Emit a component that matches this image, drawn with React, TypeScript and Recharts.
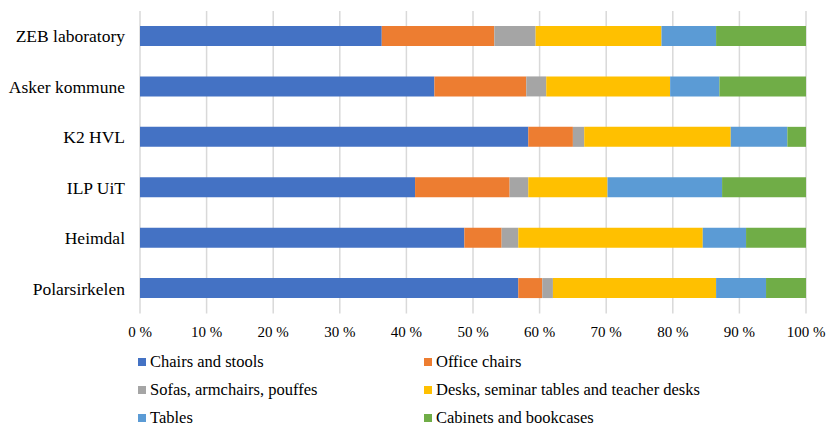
import React from 'react';
import { BarChart, Bar, XAxis, YAxis, CartesianGrid, Legend } from 'recharts';

// Categories (top to bottom) and share of each furniture type, in %
const sites = ['ZEB laboratory', 'Asker kommune', 'K2 HVL', 'ILP UiT', 'Heimdal', 'Polarsirkelen'];

const chairsAndStools = [36.3, 44.2, 58.3, 41.3, 48.7, 56.8];
const officeChairs = [16.9, 13.8, 6.7, 14.2, 5.6, 3.6];
const sofas = [6.2, 3.0, 1.7, 2.8, 2.5, 1.6];
const desks = [18.9, 18.6, 22.0, 11.9, 27.7, 24.5];
const tables = [8.2, 7.4, 8.5, 17.2, 6.5, 7.5];
const cabinets = [13.5, 13.0, 2.8, 12.6, 9.0, 6.0];

const xTicks = [0, 10, 20, 30, 40, 50, 60, 70, 80, 90, 100];

const series = [
  { key: 'chairs', name: 'Chairs and stools', values: chairsAndStools, color: '#4472C4' },
  { key: 'office', name: 'Office chairs', values: officeChairs, color: '#ED7D31' },
  { key: 'sofas', name: 'Sofas, armchairs, pouffes', values: sofas, color: '#A5A5A5' },
  { key: 'desks', name: 'Desks, seminar tables and teacher desks', values: desks, color: '#FFC000' },
  { key: 'tables', name: 'Tables', values: tables, color: '#5B9BD5' },
  { key: 'cabinets', name: 'Cabinets and bookcases', values: cabinets, color: '#70AD47' },
];

const data = sites.map((site, i) => {
  const row: Record<string, string | number> = { site };
  series.forEach((s) => {
    row[s.key] = s.values[i];
  });
  return row;
});

const font = 'Liberation Serif, Tinos, Times New Roman, DejaVu Serif, serif';

// keep legend in series order (recharts sorts payload by default)
const LegendGrid = (props: any) => {
  const items = [...(props.payload || [])].sort(
    (a: any, b: any) =>
      series.findIndex((s) => s.name === a.value) - series.findIndex((s) => s.name === b.value)
  );
  return (
    <div
      style={{
        display: 'grid',
        gridTemplateColumns: '286px 286px',
        fontFamily: font,
        fontSize: 16.5,
        color: '#000',
      }}
    >
      {items.map((item: any) => (
        <div key={item.value} style={{ display: 'flex', alignItems: 'center', height: 28, whiteSpace: 'nowrap' }}>
          <span style={{ width: 8, height: 8, background: item.color, marginRight: 4, display: 'inline-block' }} />
          <span>{item.value}</span>
        </div>
      ))}
    </div>
  );
};

export default function App() {
  return (
    <div style={{ position: 'absolute', left: 0, top: 0, width: 828, height: 426, background: '#fff', fontFamily: font }}>
      <BarChart
        width={828}
        height={426}
        data={data}
        layout="vertical"
        margin={{ top: 11, right: 22, left: 0, bottom: 0 }}
        barSize={20}
        style={{ fontFamily: font }}
      >
        <CartesianGrid horizontal={false} stroke="#d9d9d9" strokeWidth={1.5} />
        <XAxis
          type="number"
          domain={[0, 100]}
          ticks={xTicks}
          tickFormatter={(v) => `${v} %`}
          axisLine={false}
          tickLine={false}
          tickSize={0}
          tickMargin={13}
          height={28.5}
          interval={0}
          tick={{ fill: '#000', fontSize: 15, fontFamily: font }}
        />
        <YAxis
          type="category"
          dataKey="site"
          width={140}
          axisLine={false}
          tickLine={false}
          tickSize={0}
          tickMargin={15}
          interval={0}
          tick={{ fill: '#000', fontSize: 17.5, fontFamily: font }}
        />
        <Legend
          verticalAlign="bottom"
          content={<LegendGrid />}
          wrapperStyle={{ left: 138, top: 348, width: 640, height: 84 }}
        />
        {series.map((s) => (
          <Bar key={s.key} dataKey={s.key} name={s.name} stackId="a" fill={s.color} isAnimationActive={false} />
        ))}
      </BarChart>
    </div>
  );
}
